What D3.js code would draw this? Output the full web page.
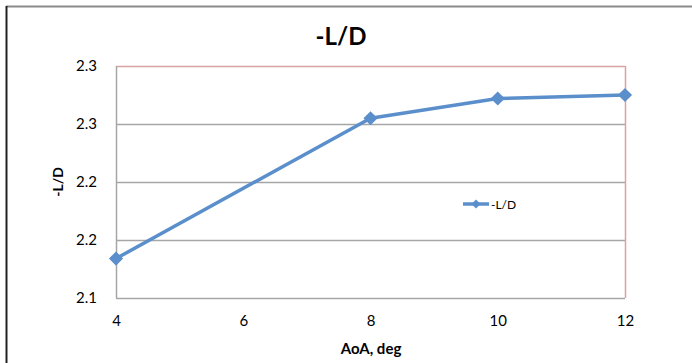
<!DOCTYPE html>
<html>
<head>
<meta charset="utf-8">
<script src="https://cdn.jsdelivr.net/npm/d3@7"></script>
<style>
  body { margin: 0; background: #fff; }
  svg { display: block; font-family: Lato, "Open Sans", sans-serif; }
</style>
</head>
<body>
<div id="chart"></div>
<script>
// data
var aoa = [4, 8, 10, 12];
var liftDrag = [2.134, 2.255, 2.272, 2.275];
var xTicks = [4, 6, 8, 10, 12];
var yTicks = [2.1, 2.15, 2.2, 2.25, 2.3];
var yTickLabels = ["2.1", "2.2", "2.2", "2.3", "2.3"];

var svgWidth = 692;
var svgHeight = 363;

var margin = { top: 66, right: 67, bottom: 65, left: 116 };
var width = svgWidth - margin.left - margin.right;
var height = svgHeight - margin.top - margin.bottom;

var svg = d3.select("#chart")
  .append("svg")
  .attr("width", svgWidth)
  .attr("height", svgHeight);

// outer frame (only top and left show)
svg.append("line")
  .attr("x1", 6).attr("x2", svgWidth).attr("y1", 6.5).attr("y2", 6.5)
  .attr("stroke", "#8a8a8a").attr("stroke-width", 2);
svg.append("line")
  .attr("x1", 6.5).attr("x2", 6.5).attr("y1", 6).attr("y2", svgHeight)
  .attr("stroke", "#222").attr("stroke-width", 2);

var chartGroup = svg.append("g")
  .attr("transform", `translate(${margin.left}, ${margin.top})`);

var x = d3.scaleLinear().domain([4, 12]).range([0, width]);
var y = d3.scaleLinear().domain([2.1, 2.3]).range([height, 0]);

// gridlines
chartGroup.selectAll(".grid")
  .data(yTicks.slice(1, 4))
  .enter()
  .append("line")
  .attr("x1", 0).attr("x2", width)
  .attr("y1", d => Math.round(y(d)) + 0.5)
  .attr("y2", d => Math.round(y(d)) + 0.5)
  .attr("stroke", "#a6a6a6")
  .attr("stroke-width", 1.5);

// plot border: top/right pink, left/bottom gray
chartGroup.append("line")
  .attr("x1", 0).attr("x2", width).attr("y1", 0.5).attr("y2", 0.5)
  .attr("stroke", "#d9a3a3").attr("stroke-width", 1.5);
chartGroup.append("line")
  .attr("x1", width + 0.5).attr("x2", width + 0.5).attr("y1", 0).attr("y2", height)
  .attr("stroke", "#d9a3a3").attr("stroke-width", 1.5);
chartGroup.append("line")
  .attr("x1", 0.5).attr("x2", 0.5).attr("y1", 0).attr("y2", height)
  .attr("stroke", "#a6a6a6").attr("stroke-width", 1.5);
chartGroup.append("line")
  .attr("x1", 0).attr("x2", width).attr("y1", height + 0.5).attr("y2", height + 0.5)
  .attr("stroke", "#a6a6a6").attr("stroke-width", 1.5);

// axes (labels only)
var bottomAxis = d3.axisBottom(x).tickValues(xTicks).tickSize(0).tickPadding(17);
var leftAxis = d3.axisLeft(y).tickValues(yTicks).tickSize(0).tickPadding(19)
  .tickFormat((d, i) => yTickLabels[i]);

var xAxisG = chartGroup.append("g")
  .attr("transform", `translate(0, ${height})`)
  .call(bottomAxis);
var yAxisG = chartGroup.append("g").call(leftAxis);

[xAxisG, yAxisG].forEach(function(g) {
  g.select(".domain").remove();
  g.selectAll("text")
    .attr("font-family", "Lato, 'Open Sans', sans-serif")
    .attr("font-size", 15)
    .attr("fill", "#000");
});

// series line
var lineColor = "#5b8fcc";
var line = d3.line()
  .x((d, i) => x(aoa[i]))
  .y(d => y(d));

chartGroup.append("path")
  .datum(liftDrag)
  .attr("d", line)
  .attr("fill", "none")
  .attr("stroke", lineColor)
  .attr("stroke-width", 3.5)
  .attr("stroke-linejoin", "round");

// markers: squares turned 45 degrees
var marker = d3.symbol().type(d3.symbolSquare).size(100);
chartGroup.selectAll(".pt")
  .data(liftDrag)
  .enter()
  .append("path")
  .attr("transform", (d, i) => `translate(${x(aoa[i])}, ${y(d)}) rotate(45)`)
  .attr("d", marker)
  .attr("fill", lineColor);

// legend
var legend = svg.append("g").attr("transform", "translate(463, 204)");
legend.append("line")
  .attr("x1", 0).attr("x2", 26).attr("y1", 0).attr("y2", 0)
  .attr("stroke", lineColor).attr("stroke-width", 3.5);
legend.append("path")
  .attr("transform", "translate(13, 0) rotate(45)")
  .attr("d", d3.symbol().type(d3.symbolSquare).size(40))
  .attr("fill", lineColor);
legend.append("text")
  .attr("x", 28).attr("y", 4.5)
  .attr("font-size", 12)
  .text("-L/D");

// titles
svg.append("text")
  .attr("x", 341).attr("y", 45)
  .attr("text-anchor", "middle")
  .attr("font-size", 24)
  .attr("font-weight", "bold")
  .text("-L/D");

svg.append("text")
  .attr("transform", "translate(63, 182) rotate(-90)")
  .attr("text-anchor", "middle")
  .attr("font-size", 14)
  .attr("font-weight", "bold")
  .text("-L/D");

svg.append("text")
  .attr("x", 371).attr("y", 354)
  .attr("text-anchor", "middle")
  .attr("font-size", 15)
  .attr("font-weight", "bold")
  .text("AoA, deg");
</script>
</body>
</html>
